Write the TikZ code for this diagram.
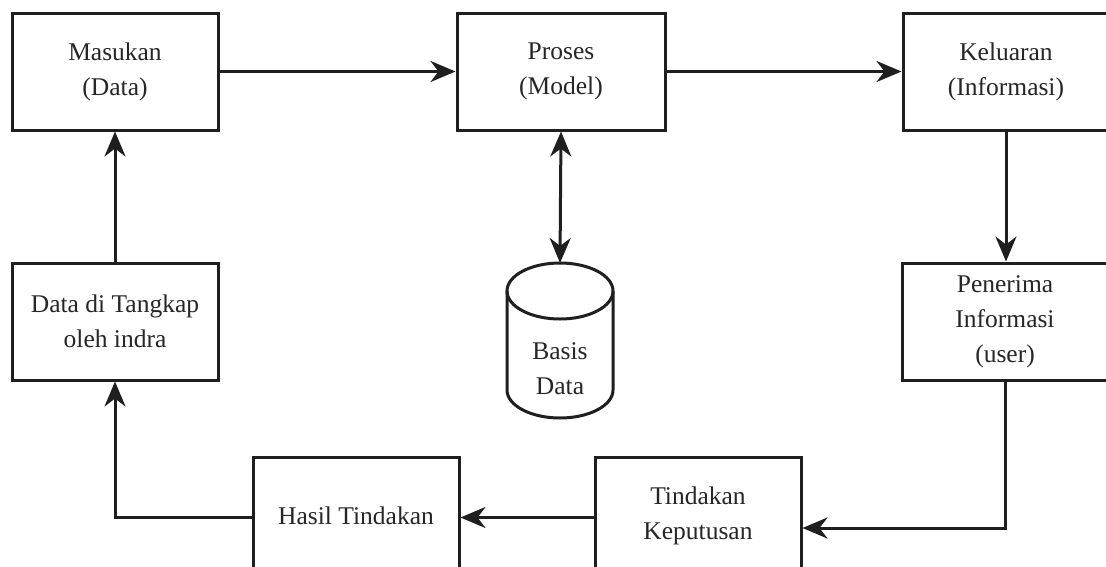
\documentclass[tikz,border=0pt]{standalone}
\usepackage{fontspec}
\setmainfont{Liberation Serif}
\usetikzlibrary{arrows.meta,calc}
\begin{document}
\begin{tikzpicture}[x=1pt,y=1pt,
  ink/.style={draw=black!88},
  box/.style={ink, line width=3pt, fill=white, minimum width=206pt, minimum height=117pt,
    inner sep=0pt, align=center, font=\fontsize{25.5}{35}\selectfont, text=black!85},
  tip/.tip={Stealth[length=25pt,width=21pt,inset=8pt]},
  link/.style={ink, line width=3pt, -tip},
  both/.style={ink, line width=3pt, tip-tip},
  label/.style={align=center, font=\fontsize{25.5}{35}\selectfont, text=black!85, inner sep=0pt},
]
\clip (0,0) rectangle (1106,-566);
\fill[white] (0,0) rectangle (1106,-566);

% process boxes
\node[box] (masukan)  at (115,-71.5)   {Masukan\\(Data)};
\node[box, minimum width=208pt] (proses) at (561,-71.5) {Proses\\(Model)};
\node[box] (keluaran) at (1006,-71.5)  {Keluaran\\(Informasi)};
\node[box] (tangkap)  at (115,-321.5)  {Data di Tangkap\\oleh indra};
\node[box] (penerima) at (1005,-321.5) {Penerima\\Informasi\\(user)};
\node[box] (hasil)    at (356,-515.5)  {Hasil Tindakan};
\node[box] (tindakan) at (698,-515.5)  {Tindakan\\Keputusan};

% database cylinder
\filldraw[ink, fill=white, line width=3pt]
  (507,-291) -- (507,-390) arc[start angle=180, end angle=360, x radius=53, y radius=28]
  -- (613,-291);
\draw[ink, line width=3pt] (560,-291) ellipse[x radius=53, y radius=28];
\coordinate (dbtop) at (560,-263);
\node[label] (basis) at (560,-369) {Basis\\Data};

% connectors
\draw[link] (masukan.east) -- (proses.west);
\draw[link] (proses.east) -- (keluaran.west);
\draw[link] (keluaran.south) -- (keluaran.south |- penerima.north);
\draw[link] (penerima.south) |- ($(tindakan.east)+(0,-12.5)$);
\draw[link] ($(tindakan.west)+(0,-2)$) -- ($(hasil.east)+(0,-2)$);
\draw[link] ($(hasil.west)+(0,-2)$) -| (tangkap.south);
\draw[link] (tangkap.north) -- (masukan.south);
\draw[both] (proses.south) -- (dbtop);
\end{tikzpicture}
\end{document}
